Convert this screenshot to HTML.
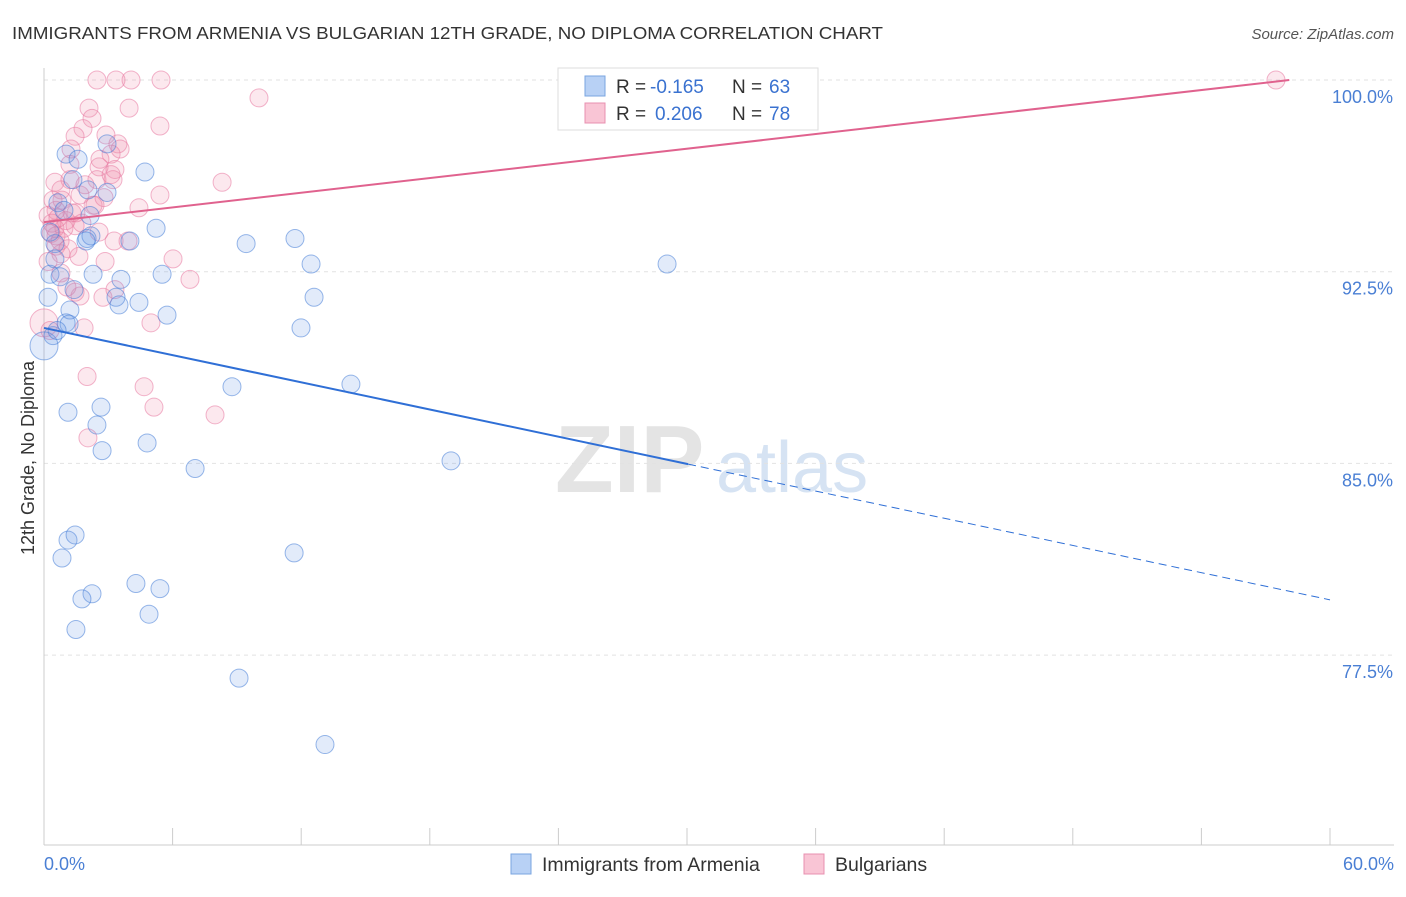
<!DOCTYPE html>
<html><head><meta charset="utf-8"><style>
body{margin:0;background:#fff;font-family:"Liberation Sans",sans-serif;}
svg text{font-family:"Liberation Sans",sans-serif;}
</style></head><body>
<svg id="chart" width="1406" height="892" xmlns="http://www.w3.org/2000/svg">
<text x="12" y="39" font-size="17.5" fill="#333" textLength="871" lengthAdjust="spacingAndGlyphs">IMMIGRANTS FROM ARMENIA VS BULGARIAN 12TH GRADE, NO DIPLOMA CORRELATION CHART</text>
<text x="1394" y="39" font-size="15" fill="#555" font-style="italic" text-anchor="end">Source: ZipAtlas.com</text>
<text x="555" y="492" font-size="96" fill="#e4e4e4" font-family="Liberation Serif" font-weight="bold">ZIP</text>
<text x="716" y="492" font-size="72" fill="#d6e3f3">atlas</text>
<g id="grid"></g><g id="axes"></g><g id="marks"></g><g id="lines"></g>
<text transform="translate(34,458) rotate(-90)" font-size="18" fill="#333" text-anchor="middle">12th Grade, No Diploma</text>
<text x="44" y="870" font-size="18" fill="#4a7fd4">0.0%</text>
<text x="1394" y="870" font-size="18" fill="#4a7fd4" text-anchor="end">60.0%</text>
<g>
<rect x="558" y="68" width="260" height="62" fill="#fff" stroke="#ddd"/>
<rect x="585" y="76" width="20" height="20" fill="#b8d1f5" stroke="#7aa5e0"/>
<rect x="585" y="103" width="20" height="20" fill="#f9c5d5" stroke="#e890b0"/>
<text x="616" y="93" font-size="19" fill="#333">R =</text>
<text x="650" y="93" font-size="19" fill="#3a72d0">-0.165</text>
<text x="732" y="93" font-size="19" fill="#333">N =</text>
<text x="769" y="93" font-size="19" fill="#3a72d0">63</text>
<text x="616" y="120" font-size="19" fill="#333">R =</text>
<text x="655" y="120" font-size="19" fill="#3a72d0">0.206</text>
<text x="732" y="120" font-size="19" fill="#333">N =</text>
<text x="769" y="120" font-size="19" fill="#3a72d0">78</text>
</g>
<g><rect x="511" y="854" width="20" height="20" fill="#b8d1f5" stroke="#7aa5e0"/><text x="542" y="871" font-size="19.5" fill="#333">Immigrants from Armenia</text></g>
<g><rect x="804" y="854" width="20" height="20" fill="#f9c5d5" stroke="#e890b0"/><text x="835" y="871" font-size="19.5" fill="#333">Bulgarians</text></g>
</svg>
<script>
const yTicks=[100,92.5,85,77.5];
const yTickLabels=["100.0%","92.5%","85.0%","77.5%"];
const xTicks=[0,6,12,18,24,30,36,42,48,54,60];
const blueX=[1.03,1.59,2.94,4.71,0.65,2.05,2.94,0.51,2.01,2.19,4.01,5.23,9.43,11.71,5.51,12.46,29.07,0.28,0.75,2.29,3.59,1.40,0.19,3.36,3.50,4.43,5.74,12.60,1.21,1.03,1.17,11.99,0.42,0,8.77,14.32,1.12,2.66,2.47,4.81,2.71,7.05,18.99,1.12,1.45,0.84,11.67,4.29,5.41,2.24,1.77,4.90,1.49,9.10,13.11,0.28,0.93,1.96,0.51,0.61,1.35,2.15];
const blueY=[97.1,96.9,97.5,96.4,95.2,95.7,95.6,93.6,93.8,93.9,93.7,94.2,93.6,93.8,92.4,92.8,92.8,92.4,92.3,92.4,92.2,91.8,91.5,91.5,91.2,91.3,90.8,91.5,91.0,90.5,90.45,90.3,90.0,89.6,88.0,88.1,87.0,87.2,86.5,85.8,85.5,84.8,85.1,82.0,82.2,81.3,81.5,80.3,80.1,79.9,79.7,79.1,78.5,76.6,74.0,94.05,94.9,93.7,93.0,90.2,96.1,94.7];
const pinkX=[2.47,3.36,4.06,5.46,57.48,2.10,3.97,10.03,2.24,1.82,5.41,1.45,1.26,3.45,3.55,3.13,2.57,3.31,0.51,1.21,2.47,3.22,5.41,8.31,0.79,1.68,2.29,4.43,0.56,1.03,0.51,0.93,1.45,2.57,3.27,3.92,0.33,0.56,0.79,0.19,1.63,2.85,6.02,6.81,1.45,1.68,2.75,3.31,4.99,1.87,0,0.28,2.01,4.67,5.13,7.98,2.05,0.79,1.07,0.19,0.37,0.56,0.84,1.21,2.61,1.91,0.75,1.31,2.89,1.49,0.65,1.77,2.38,2.80,1.12,0.42,3.13];
const pinkY=[100,100,100,100,100,98.9,98.9,99.3,98.5,98.1,98.2,97.8,97.3,97.5,97.3,97.1,96.6,96.5,96.0,96.1,96.1,96.1,95.5,96.0,95.7,95.5,95.1,95.0,94.9,94.5,94.2,94.2,94.3,94.05,93.7,93.7,94.0,93.5,93.2,92.9,93.1,92.9,93.0,92.2,91.7,91.55,91.5,91.8,90.5,90.3,90.5,90.2,88.4,88.0,87.2,86.9,86.0,92.45,91.9,94.7,94.4,93.9,95.3,96.7,96.9,95.9,93.7,94.8,97.85,94.8,94.6,94.4,95.1,95.4,93.4,95.3,96.3];
const blueTrend=[90.3,-0.1773];
const blueSolidEnd=[30.05];
const pinkTrend=[94.44,0.0957];
const pinkEnd=[58.1];
const NS="http://www.w3.org/2000/svg";
const X=v=>44+v/60*1286;
const Y=v=>80+(100-v)/7.5*191.7;
function mk(tag,attrs,parent){const e=document.createElementNS(NS,tag);for(const k in attrs)e.setAttribute(k,attrs[k]);document.getElementById(parent).appendChild(e);return e;}
yTicks.forEach((t,i)=>{
 const g=mk('line',{x1:44,x2:1394,y1:Y(t),y2:Y(t),stroke:'#e2e2e2','stroke-dasharray':'4,4'},'grid');
 
 
 const tx=mk('text',{x:1393,y:Y(t)+23,'font-size':18,fill:'#4a7fd4','text-anchor':'end'},'grid');
 tx.textContent=yTickLabels[i];
 
 
});
const ax=mk('line',{x1:44,x2:44,y1:68,y2:845,stroke:'#ccc'},'axes');


const bx=mk('line',{x1:44,x2:1394,y1:845,y2:845,stroke:'#ccc'},'axes');


xTicks.forEach(t=>{const l=mk('line',{x1:X(t),x2:X(t),y1:828,y2:845,stroke:'#ccc'},'axes');
 
 });
function pts(xs,ys,fill,stroke,name){xs.forEach((x,i)=>{const big=(x===0);
 const c=mk('circle',{cx:X(x),cy:Y(ys[i]),r:big?14:9,fill:fill,stroke:stroke,'stroke-width':1},'marks');
 
 });}
pts(pinkX,pinkY,'rgba(240,140,170,0.2)','rgba(232,120,160,0.55)','bulgarians-point');
pts(blueX,blueY,'rgba(110,155,230,0.2)','rgba(70,125,215,0.55)','armenia-point');
const bl=mk('line',{x1:X(0),y1:Y(blueTrend[0]),x2:X(blueSolidEnd[0]),y2:Y(blueTrend[0]+blueTrend[1]*blueSolidEnd[0]),stroke:'#2f6fd6','stroke-width':2},'lines');


const bd=mk('line',{x1:X(blueSolidEnd[0]),y1:Y(blueTrend[0]+blueTrend[1]*blueSolidEnd[0]),x2:X(60),y2:Y(blueTrend[0]+blueTrend[1]*60),stroke:'#2f6fd6','stroke-width':1,'stroke-dasharray':'8,5'},'lines');


const pl=mk('line',{x1:X(0),y1:Y(pinkTrend[0]),x2:X(pinkEnd[0]),y2:Y(pinkTrend[0]+pinkTrend[1]*pinkEnd[0]),stroke:'#e0628e','stroke-width':2},'lines');


</script>
</body></html>
